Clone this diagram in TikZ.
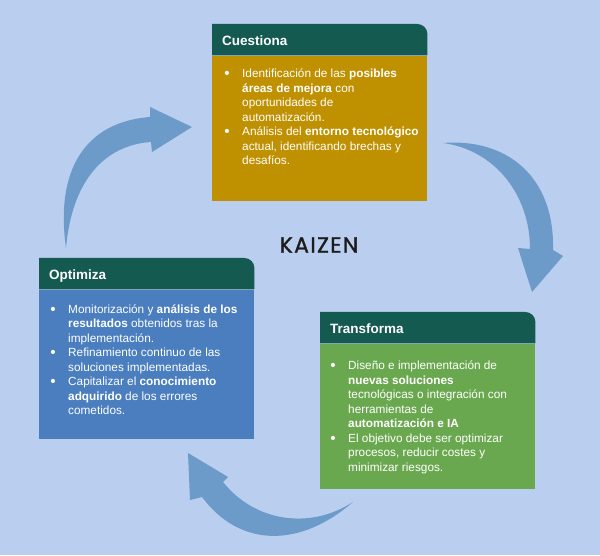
\documentclass[tikz,border=0pt]{standalone}
\usepackage{graphicx}
\usepackage{fontspec}
\setmainfont{Liberation Sans}
\newfontfamily\kaizenfont[FakeBold=1.2, LetterSpace=6]{Poppins}
\usetikzlibrary{positioning,calc,backgrounds}
\definecolor{Backdrop}{HTML}{BACEEF}
\definecolor{HeadTeal}{HTML}{145A51}
\definecolor{GoldFill}{HTML}{BF9000}
\definecolor{BlueFill}{HTML}{4A7EBF}
\definecolor{GreenFill}{HTML}{6AA84F}
\definecolor{ArrowBlue}{HTML}{6D9BC9}
\definecolor{Ink}{HTML}{1C1C1C}
\newcommand{\bul}{\llap{\raisebox{-1pt}{\scalebox{1.3}{\textbullet}}\hspace{12.5pt}}}

\begin{document}
\begin{tikzpicture}[
  x=1pt, y=1pt,
  head/.style={anchor=north west, text width=195pt, inner xsep=10pt, inner ysep=0pt, minimum height=31pt, text height=12pt, text depth=1pt, align=left, text=white, font=\fontsize{13.5}{16}\selectfont\bfseries},
  card/.style={minimum width=215pt, inner sep=0pt},
  gold/.style={card, fill=GoldFill},
  blue/.style={card, fill=BlueFill},
  green/.style={card, fill=GreenFill},
  bodytext/.style={inner sep=0pt, align=left, text=white, font=\fontsize{11.8}{14.5}\selectfont},
  bigarrow/.style={fill=ArrowBlue}
]
\useasboundingbox (0,0) rectangle (600,555);

% headers
\node[head] (cq) at (212,531) {Cuestiona};
\node[head] (op) at (39,297) {Optimiza};
\node[head] (tf) at (320,243) {Transforma};

% bodies
\node[gold, minimum height=145pt, below=0pt of cq] (cqb) {};
\node[blue, minimum height=149pt, below=0pt of op] (opb) {};
\node[green, minimum height=145pt, below=0pt of tf] (tfb) {};

\node[bodytext, below right=13.5pt and 30pt of cqb.north west] (cqt) {%
\bul Identificación de las \textbf{posibles}\\
\textbf{áreas de mejora} con\\
oportunidades de\\
automatización.\\
\bul Análisis del \textbf{entorno tecnológico}\\
actual, identificando brechas y\\
desafíos.};

\node[bodytext, below right=15pt and 29pt of opb.north west] (opt) {%
\bul Monitorización y \textbf{análisis de los}\\
\textbf{resultados} obtenidos tras la\\
implementación.\\
\bul Refinamiento continuo de las\\
soluciones implementadas.\\
\bul Capitalizar el \textbf{conocimiento}\\
\textbf{adquirido} de los errores\\
cometidos.};

\node[bodytext, below right=17.5pt and 28pt of tfb.north west] (tft) {%
\bul Diseño e implementación de\\
\textbf{nuevas soluciones}\\
tecnológicas o integración con\\
herramientas de\\
\textbf{automatización e IA}\\
\bul El objetivo debe ser optimizar\\
procesos, reducir costes y\\
minimizar riesgos.};

\node[font=\kaizenfont\fontsize{22}{26}\selectfont, text=Ink] (kz) at (319,310) {KAIZEN};

% curved arrows
\fill[bigarrow] (66,307) .. controls (55,385) and (85,433) .. (150,438)
  -- (150,448) -- (192,428) -- (152,403) -- (151,413)
  .. controls (105,410) and (72,375) .. (66,307) -- cycle;
\fill[bigarrow] (443,412) .. controls (505,417) and (555,380) .. (553,305)
  -- (563,299) -- (532,263) -- (518,307) -- (530,306)
  .. controls (530,360) and (495,405) .. (443,412) -- cycle;
\fill[bigarrow] (353,53) .. controls (300,7) and (240,7) .. (202,58)
  -- (190,55) -- (188,102) -- (228,78) -- (223,73)
  .. controls (255,33) and (310,25) .. (353,53) -- cycle;

\begin{scope}[on background layer]
  \fill[Backdrop] (0,0) rectangle (600,555);
  \foreach \h in {cq,op,tf}
    \fill[HeadTeal] (\h.south west) |- ($(\h.north east)+(-10,0)$)
      arc[start angle=90, end angle=0, radius=10] -- (\h.south east) -- cycle;
\end{scope}
\end{tikzpicture}
\end{document}
